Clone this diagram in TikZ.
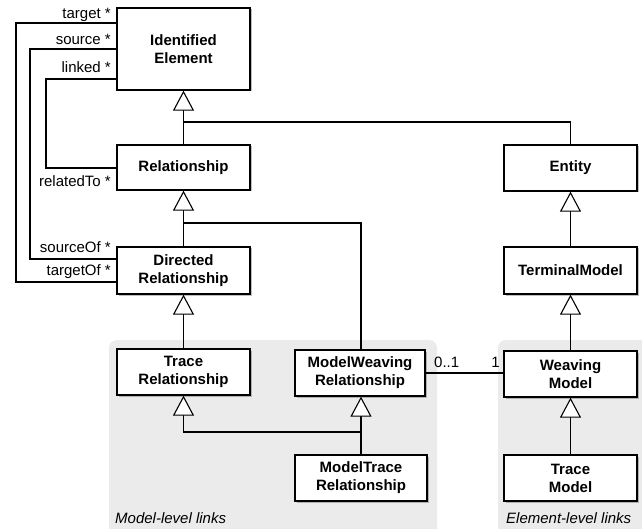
\documentclass[tikz,border=0pt]{standalone}
\usepackage{fontspec}
\setmainfont{Liberation Sans}
\usetikzlibrary{arrows.meta,shadows}
\definecolor{panel}{RGB}{235,235,235}
\begin{document}
\begin{tikzpicture}[x=1pt,y=-1pt,
  cls/.style={draw, fill=white, line width=1.3pt, font=\fontsize{15}{18}\selectfont\bfseries,
    align=center, inner sep=0pt, minimum width=133pt, minimum height=46pt,
    drop shadow={shadow xshift=1.5pt, shadow yshift=-1.5pt, opacity=0.25, fill=black}},
  conn/.style={line width=1.1pt},
  gen/.style={conn, -{Triangle[open, width=21pt, length=20pt, fill=white, line width=1.1pt]}},
  lbl/.style={font=\fontsize{15}{18}\selectfont, inner sep=0pt},
  plbl/.style={font=\fontsize{15}{18}\selectfont\itshape, inner sep=0pt},
  pnl/.style={fill=panel, draw=none, rounded corners=8pt}]
\useasboundingbox (0,0) rectangle (642,529);
% panels
\path[pnl] (109,340) rectangle (437,545);
\path[pnl] (498,340) rectangle (652,545);
\node[plbl, anchor=base west] (pl1) at (115,523) {Model-level links};
\node[plbl, anchor=base west] (pl2) at (506,523) {Element-level links};
% classes
\node[cls, minimum height=82pt] (IE) at (183.5,49) {Identified\\Element};
\node[cls, minimum height=45pt] (Rel) at (183.5,167.5) {Relationship};
\node[cls, minimum height=47pt] (DR) at (183.5,270.5) {Directed\\Relationship};
\node[cls] (TR) at (183.5,372) {Trace\\Relationship};
\node[cls, minimum width=130pt] (MW) at (360,373) {ModelWeaving\\Relationship};
\node[cls, minimum width=132pt] (MT) at (361,478) {ModelTrace\\Relationship};
\node[cls] (En) at (570.5,168) {Entity};
\node[cls, minimum height=47pt] (TM) at (570.5,270.5) {TerminalModel};
\node[cls] (WM) at (570.5,374) {Weaving\\Model};
\node[cls] (TrM) at (570.5,478) {Trace\\Model};
% junction coordinates
\coordinate (j1) at (183.5,122);
\coordinate (j2) at (183.5,223);
\coordinate (j3) at (361,432);
% generalizations
\draw[gen] (Rel.north) -- (IE.south);
\draw[conn] (En.north) |- (j1);
\draw[gen] (DR.north) -- (Rel.south);
\draw[conn] (MW.north -| 361,0) |- (j2);
\draw[gen] (TR.north) -- (DR.south);
\draw[gen] (MT.north) -- (MW.south -| MT.north);
\draw[gen] (j3) -| (TR.south);
\draw[gen] (TM.north) -- (En.south);
\draw[gen] (WM.north) -- (TM.south);
\draw[gen] (TrM.north) -- (WM.south);
% associations on the left
\coordinate (a1) at (16,23);
\coordinate (a2) at (16,282);
\coordinate (b1) at (30,49);
\coordinate (b2) at (30,259);
\coordinate (c1) at (46,79);
\coordinate (c2) at (46,168);
\draw[conn] (IE.west |- a1) -- (a1) -- (a2) -- (DR.west |- a2);
\draw[conn] (IE.west |- b1) -- (b1) -- (b2) -- (DR.west |- b2);
\draw[conn] (IE.west |- c1) -- (c1) -- (c2) -- (Rel.west |- c2);
\node[lbl, anchor=base east] (l1) at (111,19) {target *};
\node[lbl, anchor=base east] (l2) at (111,45) {source *};
\node[lbl, anchor=base east] (l3) at (111,73) {linked *};
\node[lbl, anchor=base east] (l4) at (111,187) {relatedTo *};
\node[lbl, anchor=base east] (l5) at (111,253) {sourceOf *};
\node[lbl, anchor=base east] (l6) at (111,276) {targetOf *};
% association model weaving
\draw[conn] (MW.east |- 0,373) -- (WM.west |- 0,373);
\node[lbl, anchor=base west] (m1) at (434,367) {0..1};
\node[lbl, anchor=base east] (m2) at (500,367) {1};
\end{tikzpicture}
\end{document}
